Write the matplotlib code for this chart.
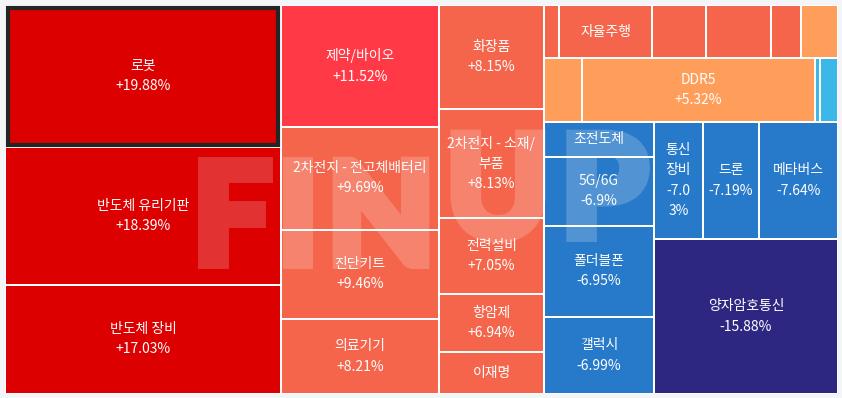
import numpy as np
import matplotlib
matplotlib.use('Agg')
import matplotlib.pyplot as plt
import matplotlib.patheffects as pe
from matplotlib.figure import Figure
from matplotlib.backends.backend_agg import FigureCanvasAgg
from matplotlib.patches import Rectangle

plt.rcParams['font.family'] = ['Noto Sans CJK KR', 'DejaVu Sans']

# ---- data (sizes) ----
names = ['로봇', '반도체 유리기판', '반도체 장비',
         '제약/바이오', '2차전지 - 전고체배터리', '진단키트', '의료기기',
         '화장품', '2차전지 - 소재/\n부품', '전력설비', '항암제', '이재명',
         '', '자율주행', '', '', '', '',
         '', 'DDR5', '', '',
         '초전도체', '5G/6G', '폴더블폰', '갤럭시',
         '통신\n장비', '드론', '메타버스', '양자암호통신']
changes = [19.88, 18.39, 17.03,
           11.52, 9.69, 9.46, 8.21,
           8.15, 8.13, 7.05, 6.94, 6.9,
           7.4, 7.3, 7.2, 7.1, 7.0, 5.1,
           5.0, 5.32, -2.5, -2.6,
           -6.9, -6.9, -6.95, -6.99,
           -7.03, -7.19, -7.64, -15.88]
sizes = [39192, 37950, 30222,
         19276, 16195, 14141, 11850,
         10920, 11445, 7980, 6090, 4410,
         795, 4929, 2862, 3445, 1590, 1961,
         2432, 14912, 320, 1152,
         3850, 7535, 10065, 8470,
         5733, 6552, 9243, 28520]

# nesting of the treemap: 'h' splits left->right, 'v' splits top->bottom
tree = ('h', [
    ('v', [0, 1, 2]),
    ('v', [3, 4, 5, 6]),
    ('v', [7, 8, 9, 10, 11]),
    ('v', [
        ('h', [12, 13, 14, 15, 16, 17]),
        ('h', [18, 19, 20, 21]),
        ('h', [
            ('v', [22, 23, 24, 25]),
            ('v', [('h', [26, 27, 28]), 29]),
        ]),
    ]),
])


def weight(node):
    if isinstance(node, int):
        return sizes[node]
    return sum(weight(c) for c in node[1])


def layout(node, x, y, w, h, out):
    if isinstance(node, int):
        out[node] = (x, y, w, h)
        return
    d, kids = node
    tot = weight(node)
    for k in kids:
        f = weight(k) / tot
        if d == 'h':
            layout(k, x, y, w * f, h, out)
            x += w * f
        else:
            layout(k, x, y, w, h * f, out)
            y += h * f


def color_for(v):
    if v >= 15:
        return '#dc0000'
    if v >= 10:
        return '#ff3a46'
    if v >= 6:
        return '#f5654b'
    if v >= 0:
        return '#ff9e5a'
    if v > -5:
        return '#3bb8e8'
    if v > -10:
        return '#2779c9'
    return '#2e2782'


W, H = 842, 398
AW, AH = 833, 389
fig = plt.figure(figsize=(W / 100, H / 100), dpi=100, facecolor='#f3f5f9')
ax = fig.add_axes([5 / W, 4 / H, AW / W, AH / H])
ax.axis('off')
ax.add_patch(Rectangle((0, 0), AW, AH, facecolor='white', edgecolor='none', zorder=0))

rects = {}
layout(tree, 0, 0, AW, AH, rects)

for i, (x, y, w, h) in rects.items():
    ax.add_patch(Rectangle((x + 1, y + 1), w - 2, h - 2, facecolor=color_for(changes[i]),
                           edgecolor='none', zorder=1))
    if not names[i] or w < 30:
        continue
    label = names[i]
    if h >= 55:
        pct = '{:+g}%'.format(changes[i])
        if w < 50:
            pct = '\n'.join(pct[j:j + 4] for j in range(0, len(pct), 4))
        label += '\n' + pct
    ax.text(x + w / 2, y + h / 2, label, ha='center', va='center', color='white',
            fontsize=10, linespacing=1.55, zorder=4)

# highlighted cell
x, y, w, h = rects[0]
ax.add_patch(Rectangle((x + 2.5, y + 2.5), w - 5, h - 5, facecolor='none',
                       edgecolor='#252525', linewidth=3, zorder=2))

# watermark: heavy letters rendered off-screen to a mask, then laid on at low alpha
mfig = Figure(figsize=(AW / 100, AH / 100), dpi=100)
mcanvas = FigureCanvasAgg(mfig)
mfig.patch.set_alpha(0)
max_ = mfig.add_axes([0, 0, 1, 1])
max_.set_xlim(0, AW)
max_.set_ylim(AH, 0)
max_.axis('off')
for ch, cx, base in [('F', 227, 258), ('I', 293, 258), ('N', 376, 258),
                     ('U', 493, 231), ('P', 599, 231)]:
    max_.text(cx, base, ch, ha='center', va='baseline', color='black', fontsize=100,
              fontweight='bold', family=['Lato', 'DejaVu Sans'],
              path_effects=[pe.withStroke(linewidth=8.6, foreground='black', joinstyle='miter')])
mcanvas.draw()
mask = np.asarray(mcanvas.buffer_rgba())[..., 3] / 255.0
wm = np.ones((mask.shape[0], mask.shape[1], 4))
wm[..., 3] = mask * 0.2
ax.imshow(wm, extent=(0, AW, AH, 0), zorder=3, aspect='auto', interpolation='nearest')

ax.set_xlim(0, AW)
ax.set_ylim(AH, 0)

fig.savefig('out.png', dpi=100, facecolor=fig.get_facecolor())
